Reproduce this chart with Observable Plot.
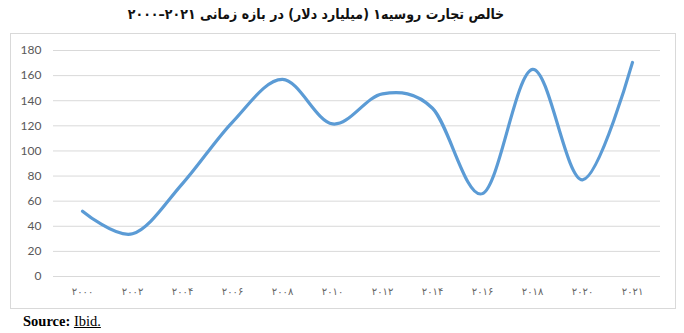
<!DOCTYPE html>
<html>
<head>
<meta charset="utf-8">
<script src="https://cdn.jsdelivr.net/npm/d3@7"></script>
<script src="https://cdn.jsdelivr.net/npm/@observablehq/plot@0.6"></script>
<style>
  body { margin: 0; background: #fff; }
  #wrap { position: relative; width: 684px; height: 333px; background: #fff; overflow: hidden; }
  #title { position: absolute; left: 0; top: 6px; width: 632px; text-align: center; direction: rtl;
           font: bold 14px "DejaVu Sans Condensed", "DejaVu Sans"; color: #111; }
  #chart { position: absolute; left: 10px; top: 33px; border: 1px solid #d9d9d9; width: 664px; height: 274px; }
  #chart svg { display: block; }
  #src { position: absolute; left: 23px; top: 313px; font: 14.5px "Liberation Serif"; color: #000; }
</style>
</head>
<body>
<div id="wrap">
  <div id="title">خالص تجارت روسیه۱ (میلیارد دلار) در بازه زمانی ۲۰۲۱–۲۰۰۰</div>
  <div id="chart"></div>
  <div id="src"><b>Source:</b> <u>Ibid.</u></div>
</div>
<script>
const years = [2000, 2002, 2004, 2006, 2008, 2010, 2012, 2014, 2016, 2018, 2020, 2021];
const yearLabels = ["۲۰۰۰", "۲۰۰۲", "۲۰۰۴", "۲۰۰۶", "۲۰۰۸", "۲۰۱۰", "۲۰۱۲", "۲۰۱۴", "۲۰۱۶", "۲۰۱۸", "۲۰۲۰", "۲۰۲۱"];
const netTrade = [52, 34, 74, 123, 157, 121.5, 145.5, 134, 66, 165, 77, 170.5];
const yTicks = [0, 20, 40, 60, 80, 100, 120, 140, 160, 180];

const data = years.map((year, i) => ({year, value: netTrade[i]}));

const chart = Plot.plot({
  width: 664,
  height: 274,
  marginLeft: 42,
  marginRight: 15,
  marginTop: 16,
  marginBottom: 32,
  style: {fontFamily: "Lato", fontSize: "12px", background: "#fff", color: "#595959"},
  x: {type: "point", domain: years, padding: 0.5, label: null},
  y: {domain: [0, 180], label: null},
  marks: [
    Plot.gridY(yTicks, {stroke: "#d9d9d9", strokeOpacity: 1, strokeWidth: 1}),
    Plot.axisY(yTicks, {tickSize: 0, tickPadding: 12, fontSize: 12, fill: "#595959", label: null}),
    Plot.axisX(years, {tickSize: 0, tickPadding: 11, fontSize: 10, fill: "#666", fontFamily: "DejaVu Sans",
      tickFormat: d => yearLabels[years.indexOf(d)], label: null}),
    Plot.line(data, {x: "year", y: "value", curve: "cardinal", stroke: "#5b9bd5", strokeWidth: 3.2})
  ]
});
chart.querySelectorAll("[aria-label='x-axis tick label'] text").forEach(t => t.setAttribute("letter-spacing", "1.5"));
document.getElementById("chart").appendChild(chart);
</script>
</body>
</html>
